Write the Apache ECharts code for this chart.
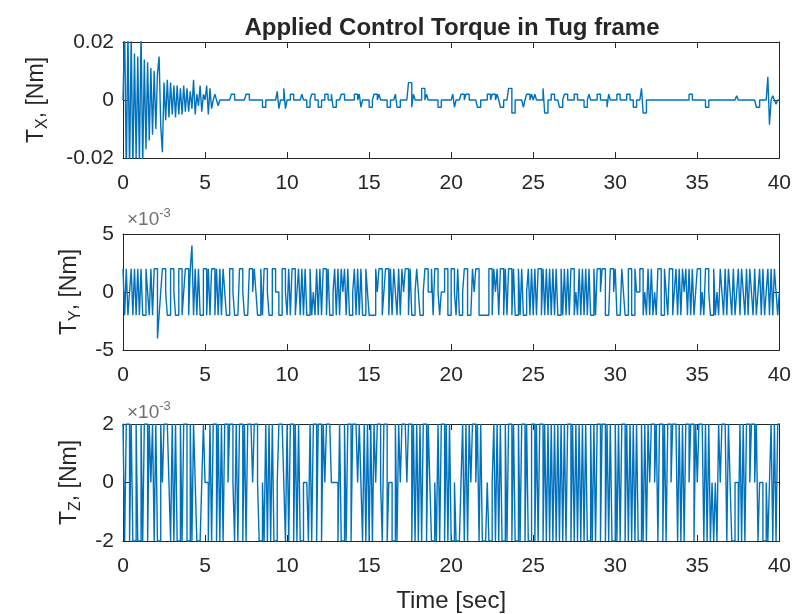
<!DOCTYPE html>
<html>
<head>
<meta charset="utf-8">
<script src="https://cdn.jsdelivr.net/npm/echarts@6/dist/echarts.min.js"></script>
<style>
  html, body { margin: 0; padding: 0; background: #ffffff; }
  #chart { width: 794px; height: 614px; }
</style>
</head>
<body>
<div id="chart"></div>
<script>
// Sampling period of the logged torque commands [s]
const sampleStep = 0.1;
const timeRange = [0, 40];
const timeTickStep = 5;

// Tick values of each panel (panel 1 in Nm, panels 2 and 3 in 1e-3 Nm)
const txTicks = [-0.02, 0, 0.02];
const tyTicks = [-5, 0, 5];
const tzTicks = [-2, 0, 2];

// T_X [1e-3 Nm], 0.0 s .. 5.9 s: large decaying oscillation after start-up
const txHead = [
  0, 25, -26, 24, -25, 22, -24, 16, -20, 15,
  -22, 24, -23, 14, -17, 13, -14, 11, -12, 10,
  -10, 9, 15, -9, -18, 6, -7, 7, -6, 6,
  -5, 5, -6, 5, -5, 4, -5, 5, -4, 4,
  -4, 3, -3, 7, -5, 2, -2, 5, -4, 2,
  0, 5, -5, 4, -3, 0, 2, 0, -2, 0
];
// T_X [1e-3 Nm], 6.0 s .. 40.0 s: small thruster pulses, one character per sample
const txPulseLevels = { '0': 0, 'a': 1.5, 'b': 2, 'c': -1.5, 'd': -2.5, 'e': 4, 'f': -4.5, 'g': 6, 'h': 8, 'i': -8.5, 'j': 3, 'k': -3 };
const txTail = [
  '000000bb00', '00000bb000', '00000dd000', '0000jk00ek', '00bb00000b',
  '00dd0bb00d', 'd00bb00bdd', '000bb00000', '0bb0bd0000', 'dd0bb0b000',
  '0dd000bdd0', '0000ggdb00', '00ee0b0000', '00dd000000', '0bd000bb0b',
  'b00000dd00', '00bb0bb0b0', 'dd000eeff0', '0000d0bb0b', '0b0000eff0',
  '0bb000dd0b', 'b0000bb000', '0dd0b0000b', 'b0000db000', '0bb0000bb0',
  '0dd000eff0', '0000000000', '0000000000', '00000bb000', '00000dd000',
  '0000000000', '0000a00000', '000000dd00', '000hi0a0c0', '0'
].join('');

// T_Y [1e-3 Nm], one character per sample from 0.0 s
const tyLevels = { '+': 2, '0': 0, '-': -2, 'P': 4, 'M': -4 };
const tyCommands = [
  '+-+-0+-+-+', '-+--+0-+-+', '+M-0++0--+', '+0--++-0++', '-+P-+-+--+',
  '+-+-++-+-+', '-+0--++0--', '-++0---++0', '+0--+-++0-', '-++00--++0',
  '-+-++-0+-+', '-+--+-0-+-', '+-++-+--0+', '-+-+0+-+--', '0+-+-+--+0',
  '----+0++-0', '++-+-+0-+-', '+0++-+--0+', '0--0++00+-', '++0-00++--',
  '++0-+--0++', '---+0++---', '---++-+0+-', '++-+-++-+-', '-+-+--0+-+',
  '-+-++-+-+-', '+-+-+--+-+', '-+-++-0-+-', '+-+-+--+-+', '+0++---++0',
  '+---+0--++', '--+00++-0-', '+-+-0-++--', '+0-++-0+-+', '-+0+-+-+-0',
  '++-0-++0--', '+-0-+0-+-+', '0-+-0+-+0-', '+-+0-+-0+-', '+-0+-+-+0-',
  '0'
].join('');

// T_Z [1e-3 Nm], one character per sample from 0.0 s
const tzLevels = { '+': 2, '0': 0, '-': -2 };
const tzCommands = [
  '+-++-+--+-', '-+-++-+0+-', '+--+0+++0-', '+-+--+-++-', '-+-+0---0+',
  '00-+-++-+-', '+-++0++0-+', '-++-+-+++0', '++0--0-+-+', '-+--0+++0-',
  '+-++-+-+--', '000-+-++-+', '+-+0+++000', '0-+--+-++-', '+++0+0-+-+',
  '-+-+0++0-+', '+-00--+-+0', '+++0++-+-+', '-+-++-+0--', '0-+-++-+-+',
  '--0---0+-+', '-+0++0+-+-', '--0--0+-+-', '+--+-++-+-', '-+-++-+--+',
  '+-+-++-+-+', '-+-+-+-+-+', '-++-+-+-+-', '+-+--+-+-+', '+-++-+-+--',
  '+-+-++-+-+', '-+-+--+-+-', '+0++0+-++-', '+-++0+++-+', '-+-++0++-+',
  '0+++-+-+-0', '-0-+0+++-+', '0--00-+-+-', '++0++0+-00', '--0-0+-+-+',
  '+'
].join('');

// ---- build [time, value] pairs ----
const txValues = txHead.concat(txTail.split('').map(c => txPulseLevels[c]));
const txData = txValues.map((v, i) => [+(i * sampleStep).toFixed(2), v / 1000]);
const tyData = tyCommands.split('').map((c, i) => [+(i * sampleStep).toFixed(2), tyLevels[c]]);
const tzData = tzCommands.split('').map((c, i) => [+(i * sampleStep).toFixed(2), tzLevels[c]]);

const ink = '#262626';
const lineBlue = '#0072BD';
const fontFamily = '"Liberation Sans", Arial, Helvetica, sans-serif';
const tickFont = 21;
const labelFont = 24;

const grids = [
  { left: 123, top: 42, width: 660, height: 116 },
  { left: 123, top: 234, width: 660, height: 116 },
  { left: 123, top: 424, width: 660, height: 117 }
];

function bottomAxis(gridIndex, withName) {
  const ax = {
    type: 'value', gridIndex, position: 'bottom',
    min: timeRange[0], max: timeRange[1], interval: timeTickStep,
    axisLine: { show: true, onZero: false, lineStyle: { color: ink, width: 1 } },
    axisTick: { show: true, inside: true, length: 6, lineStyle: { color: ink } },
    axisLabel: { show: true, color: ink, fontSize: tickFont, fontFamily, margin: 15 },
    splitLine: { show: false }
  };
  if (withName) {
    ax.name = 'Time [sec]';
    ax.nameLocation = 'middle';
    ax.nameGap = 48;
    ax.nameTextStyle = { color: ink, fontSize: labelFont, fontFamily };
  }
  return ax;
}
function topAxis(gridIndex) {
  return {
    type: 'value', gridIndex, position: 'top',
    min: timeRange[0], max: timeRange[1], interval: timeTickStep,
    axisLine: { show: true, onZero: false, lineStyle: { color: ink, width: 1 } },
    axisTick: { show: true, inside: true, length: 6, lineStyle: { color: ink } },
    axisLabel: { show: false },
    splitLine: { show: false }
  };
}
function leftAxis(gridIndex, ticks, sub, formatter, nameGap) {
  return {
    type: 'value', gridIndex, position: 'left',
    min: ticks[0], max: ticks[ticks.length - 1], interval: ticks[1] - ticks[0],
    axisLine: { show: true, onZero: false, lineStyle: { color: ink, width: 1 } },
    axisTick: { show: true, inside: true, length: 6, lineStyle: { color: ink } },
    axisLabel: { show: true, color: ink, fontSize: tickFont, fontFamily, margin: 9, formatter },
    splitLine: { show: false },
    name: '{m|T}{s|' + sub + '}{m|, [Nm]}',
    nameLocation: 'middle',
    nameRotate: 90,
    nameGap,
    nameTextStyle: {
      rich: {
        m: { color: ink, fontSize: 23, fontFamily },
        s: { color: ink, fontSize: 16, fontFamily, padding: [12, 0, 0, 0] }
      }
    }
  };
}
function rightAxis(gridIndex, ticks) {
  return {
    type: 'value', gridIndex, position: 'right',
    min: ticks[0], max: ticks[ticks.length - 1], interval: ticks[1] - ticks[0],
    axisLine: { show: true, onZero: false, lineStyle: { color: ink, width: 1 } },
    axisTick: { show: true, inside: true, length: 6, lineStyle: { color: ink } },
    axisLabel: { show: false },
    splitLine: { show: false }
  };
}

const fmtTx = v => (v === 0 ? '0' : v.toFixed(2));
const fmtInt = v => String(v);

// Zero-order-hold traces: each command is held until the next sample
function torqueSeries(data, idx) {
  return {
    type: 'line', data, xAxisIndex: idx, yAxisIndex: idx, step: 'end',
    showSymbol: false, symbol: 'none', clip: true, sampling: null,
    lineStyle: { color: lineBlue, width: 1.4 },
    emphasis: { disabled: true }, animation: false, z: 1
  };
}

const exponentLabel = (top) => ({
  type: 'text', left: 127, top, silent: true,
  style: {
    text: '{b|\u00d710}{e|-3}',
    rich: {
      b: { fill: '#707070', fontSize: 19, fontFamily },
      e: { fill: '#707070', fontSize: 13, fontFamily, padding: [0, 0, 12, 0] }
    }
  }
});

const chart = echarts.init(document.getElementById('chart'), null, { renderer: 'canvas' });
chart.setOption({
  backgroundColor: '#ffffff',
  animation: false,
  title: {
    text: 'Applied Control Torque in Tug frame',
    left: 447, top: 11, textAlign: 'center',
    textStyle: { color: ink, fontSize: 24, fontWeight: 'bold', fontFamily }
  },
  grid: grids,
  xAxis: [bottomAxis(0, false), bottomAxis(1, false), bottomAxis(2, true), topAxis(0), topAxis(1), topAxis(2)],
  yAxis: [
    leftAxis(0, txTicks, 'X', fmtTx, 72),
    leftAxis(1, tyTicks, 'Y', fmtInt, 39),
    leftAxis(2, tzTicks, 'Z', fmtInt, 39),
    rightAxis(0, txTicks), rightAxis(1, tyTicks), rightAxis(2, tzTicks)
  ],
  graphic: [exponentLabel(207), exponentLabel(400)],
  series: [torqueSeries(txData, 0), torqueSeries(tyData, 1), torqueSeries(tzData, 2)]
});
</script>
</body>
</html>
